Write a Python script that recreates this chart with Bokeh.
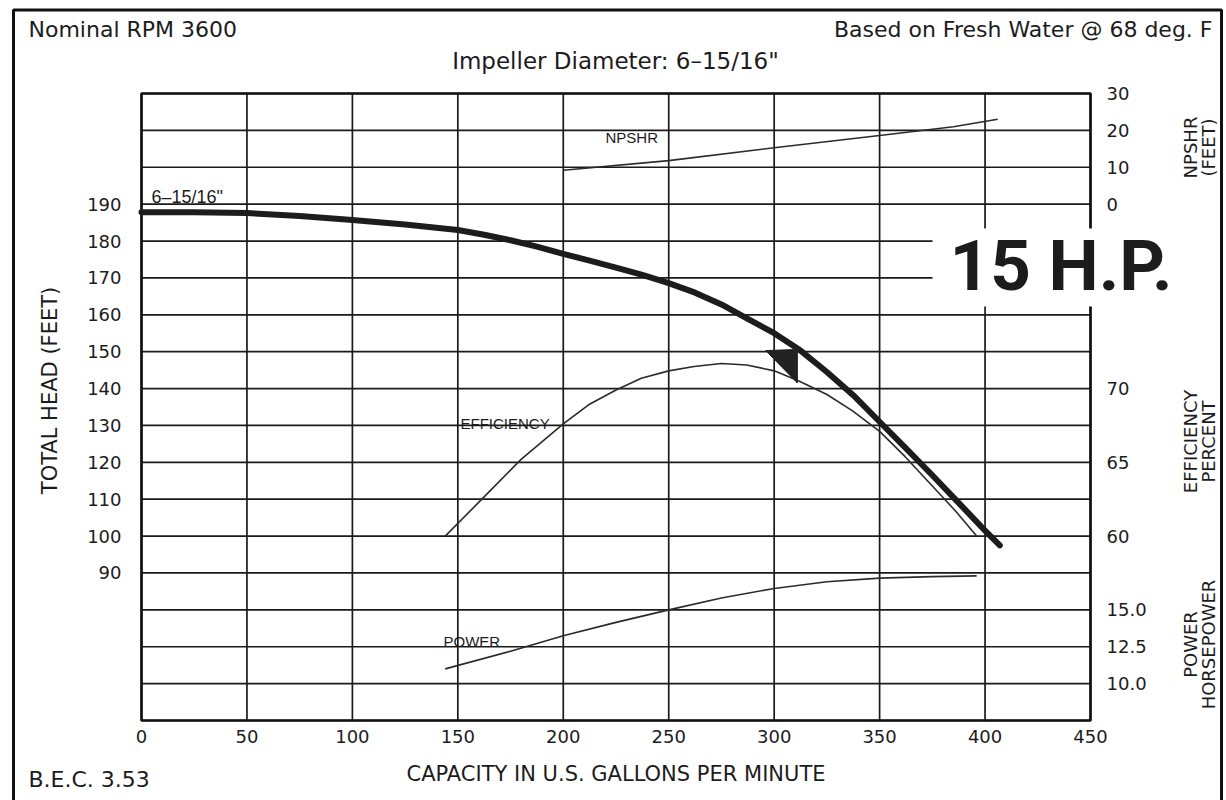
import math
from bokeh.plotting import figure
from bokeh.models import Range1d, LinearAxis, FixedTicker, Label, BoxAnnotation
from bokeh.embed import file_html
from bokeh.resources import INLINE

# ---------------- data ----------------
flow_ticks = [0, 50, 100, 150, 200, 250, 300, 350, 400, 450]
head_ticks = [190, 180, 170, 160, 150, 140, 130, 120, 110, 100, 90]
head_grid = [50, 60, 70, 80, 90, 100, 110, 120, 130, 140, 150, 160, 170, 180, 190, 200, 210, 220]

npshr_ticks = [0, 10, 20, 30]
eff_ticks = [60, 65, 70]
power_ticks = [10.0, 12.5, 15.0]
npshr_labels = ["0", "10", "20", "30"]
eff_labels = ["60", "65", "70"]
power_labels = ["10.0", "12.5", "15.0"]

head_gpm = [0, 25, 50, 75, 100, 125, 150, 162.5, 175, 187.5, 200, 212.5, 225, 237.5, 250, 262.5, 275,
            287.5, 300, 312.5, 325, 337.5, 350, 362.5, 375, 387.5, 400, 407]
head_ft = [187.8, 187.8, 187.6, 186.8, 185.7, 184.5, 183.0, 181.7, 180.2, 178.5, 176.5, 174.7, 172.8,
           170.8, 168.6, 166.0, 162.8, 158.9, 155.0, 150.3, 144.5, 138.2, 131.0, 123.8, 116.5, 109.0,
           101.5, 97.5]

eff_gpm = [144, 160, 180, 200, 212, 225, 237, 250, 262, 275, 287, 300, 312, 325, 337, 350, 362, 375, 386, 396]
eff_pct = [60.0, 62.3, 65.2, 67.6, 68.9, 69.9, 70.7, 71.2, 71.5, 71.7, 71.6, 71.2, 70.5, 69.6, 68.5,
           67.1, 65.4, 63.4, 61.7, 60.0]

npshr_gpm = [200, 250, 300, 350, 385, 406]
npshr_ft = [9.2, 11.8, 15.3, 18.6, 21.0, 23.0]

power_gpm = [144, 175, 200, 225, 250, 275, 300, 325, 350, 375, 396]
power_hp = [11.0, 12.2, 13.25, 14.15, 15.0, 15.8, 16.45, 16.9, 17.15, 17.25, 17.3]

bep_gpm = [296, 311, 311]
bep_head = [150.3, 150.6, 141.5]

# ---------------- geometry ----------------
W, H = 1226, 800
FX0, FX1 = 141, 1090      # canvas px of 0 and 450 gpm
FY0, FY1 = 720, 93        # canvas px of 50 and 220 ft
X_MIN, X_MAX = 0, 450
HEAD_MIN, HEAD_MAX = 50, 220
sx = (FX1 - FX0) / (X_MAX - X_MIN)
sy = (FY0 - FY1) / (HEAD_MAX - HEAD_MIN)
x_lo = X_MIN - FX0 / sx
x_hi = X_MAX + (W - FX1) / sx
y_lo = HEAD_MIN - (H - FY0) / sy
y_hi = HEAD_MAX + FY1 / sy

def dx(px):  # page pixel -> data x (for annotation placement only)
    return X_MIN + (px - FX0) / sx

def dy(py):  # page pixel -> data y (for annotation placement only)
    return HEAD_MAX - (py - FY1) / sy

# secondary scales: value = a + (head - h0) * k
NPSHR_MAP = (0.0, 190.0, 1.0)
EFF_MAP = (60.0, 100.0, 0.25)
POWER_MAP = (10.0, 60.0, 0.25)

def sec_range(m):
    a, h0, k = m
    return Range1d(a + (y_lo - h0) * k, a + (y_hi - h0) * k)

def to_head(v, m):
    a, h0, k = m
    return h0 + (v - a) / k

p = figure(width=W, height=H, x_range=Range1d(x_lo, x_hi), y_range=Range1d(y_lo, y_hi),
           output_backend="svg", toolbar_location=None, title=None,
           x_axis_location=None, y_axis_location=None,
           min_border=0, min_border_left=0, min_border_right=0, min_border_top=0, min_border_bottom=0)
p.extra_y_ranges = {"npshr": sec_range(NPSHR_MAP), "eff": sec_range(EFF_MAP),
                    "power": sec_range(POWER_MAP)}
p.xgrid.visible = False
p.ygrid.visible = False
p.background_fill_color = "white"
p.border_fill_color = "white"
p.outline_line_color = None

INK = "#1c1c1c"
TICK_FONT = "DejaVu Sans"

# grid and plot frame
p.segment(x0=flow_ticks, y0=[HEAD_MIN] * len(flow_ticks), x1=flow_ticks, y1=[HEAD_MAX] * len(flow_ticks),
          line_color="#1a1a1a", line_width=1.7)
p.segment(x0=[X_MIN] * len(head_grid), y0=head_grid, x1=[X_MAX] * len(head_grid), y1=head_grid,
          line_color="#1a1a1a", line_width=1.7)
p.quad(left=[X_MIN], right=[X_MAX], bottom=[HEAD_MIN], top=[HEAD_MAX],
       fill_color=None, line_color="#111111", line_width=2.6)

def style_axis(ax, standoff, label_standoff=10):
    ax.axis_line_color = None
    ax.major_tick_line_color = None
    ax.minor_tick_line_color = None
    ax.major_tick_out = 0
    ax.major_tick_in = 0
    ax.major_label_standoff = standoff
    ax.major_label_text_font = TICK_FONT
    ax.major_label_text_font_size = "18px"
    ax.major_label_text_color = INK
    ax.axis_label_text_font = TICK_FONT
    ax.axis_label_text_font_size = "21px"
    ax.axis_label_text_font_style = "normal"
    ax.axis_label_text_color = INK
    ax.axis_label_standoff = label_standoff

xa = LinearAxis(fixed_location=HEAD_MIN, ticker=FixedTicker(ticks=flow_ticks), bounds=(X_MIN, X_MAX),
                axis_label="CAPACITY IN U.S. GALLONS PER MINUTE")
style_axis(xa, 9, 16)
p.add_layout(xa, "below")

ya = LinearAxis(fixed_location=X_MIN, ticker=FixedTicker(ticks=head_ticks), bounds=(59, HEAD_MAX),
                axis_label="TOTAL HEAD (FEET)")
style_axis(ya, 20, 22)
p.add_layout(ya, "left")

right_pos = []
right_over = {}
for ticks, labels, m in ((npshr_ticks, npshr_labels, NPSHR_MAP),
                         (eff_ticks, eff_labels, EFF_MAP),
                         (power_ticks, power_labels, POWER_MAP)):
    for t, lab_txt in zip(ticks, labels):
        h = round(to_head(t, m), 6)
        right_pos.append(h)
        right_over[h] = lab_txt

ra = LinearAxis(fixed_location=X_MAX, ticker=FixedTicker(ticks=right_pos),
                major_label_overrides=right_over, bounds=(HEAD_MIN, HEAD_MAX))
style_axis(ra, 16)
p.add_layout(ra, "right")

# curves
p.line(head_gpm, head_ft, line_width=6, color="#1c1c1c", line_join="round", line_cap="round")
p.line(eff_gpm, eff_pct, y_range_name="eff", line_width=1.6, color="#2b2b2b", line_join="round")
p.line(npshr_gpm, npshr_ft, y_range_name="npshr", line_width=1.6, color="#2b2b2b", line_join="round")
p.line(power_gpm, power_hp, y_range_name="power", line_width=1.6, color="#2b2b2b", line_join="round")
p.patch(bep_gpm, bep_head, color="#222222", line_width=1)

# sheet border
p.add_layout(BoxAnnotation(left=dx(13), right=dx(1221), top=dy(9.5), bottom=dy(830),
                           fill_color=None, line_color="#111111", line_width=3, line_alpha=1))

# white patch behind the horsepower stamp
p.add_layout(BoxAnnotation(left=dx(932), right=dx(1175), top=dy(228), bottom=dy(306),
                           fill_color="white", fill_alpha=1.0, line_color=None))

def lab(x, y, text, size, font=TICK_FONT, align="left", baseline="middle", angle=0.0, style="normal"):
    p.add_layout(Label(x=x, y=y, text=text, text_font=font, text_font_size=size,
                       text_align=align, text_baseline=baseline, angle=angle,
                       text_color=INK, text_font_style=style))

lab(dx(28), dy(29), "Nominal RPM 3600", "22px")
lab(dx(1212), dy(29), "Based on Fresh Water @ 68 deg. F", "22px", align="right")
lab(dx(615), dy(60), "Impeller Diameter: 6\u201315/16\"", "23px", align="center")
lab(dx(28), dy(779), "B.E.C. 3.53", "22px")
lab(dx(949), dy(265), "15 H.P.", "71px", font="Roboto", style="bold")

lab(dx(151), dy(206), "6\u201315/16\"", "18px", font="Liberation Sans", baseline="bottom")
lab(dx(605), dy(137), "NPSHR", "15px", font="Liberation Sans")
lab(dx(460), dy(423), "EFFICIENCY", "15px", font="Liberation Sans")
lab(dx(443), dy(641), "POWER", "15px", font="Liberation Sans")

rot = math.pi / 2
lab(dx(1190), dy(147), "NPSHR", "18px", align="center", angle=rot)
lab(dx(1208), dy(147), "(FEET)", "18px", align="center", angle=rot)
lab(dx(1190), dy(441), "EFFICIENCY", "18px", align="center", angle=rot)
lab(dx(1208), dy(441), "PERCENT", "18px", align="center", angle=rot)
lab(dx(1190), dy(644), "POWER", "18px", align="center", angle=rot)
lab(dx(1208), dy(644), "HORSEPOWER", "18px", align="center", angle=rot)

open("out.html", "w").write(file_html(p, INLINE))
